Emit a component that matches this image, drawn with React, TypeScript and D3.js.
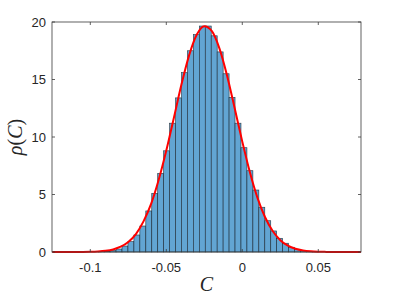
import * as d3 from "d3";
import { useEffect } from "react";

// histogram (pdf normalisation), bins of equal width starting at binStart
const binStart = -0.0948;
const binWidth = 0.003914;
const density = [
  0.01, 0.03, 0.12, 0.26, 0.52, 0.9, 1.48, 2.26, 3.57, 5.1, 6.84, 8.8, 11.2,
  13.4, 15.6, 17.5, 18.9, 19.65, 19.65, 18.8, 17.4, 15.5, 13.45, 11.2, 9.07,
  7.07, 5.39, 3.89, 2.72, 1.83, 1.19, 0.76, 0.41, 0.23, 0.11, 0.05, 0.02,
];

// fitted curve
const fitX = [
  -0.125, -0.12, -0.115, -0.11, -0.105, -0.1, -0.095, -0.09, -0.085, -0.08,
  -0.075, -0.07, -0.065, -0.06, -0.055, -0.05, -0.045, -0.04, -0.035, -0.03,
  -0.025, -0.02, -0.015, -0.01, -0.005, 0, 0.005, 0.01, 0.015, 0.02, 0.025,
  0.03, 0.035, 0.04, 0.045, 0.05, 0.055, 0.06, 0.065, 0.07, 0.075, 0.078,
];
const fitY = [
  0, 0, 0.001, 0.003, 0.007, 0.019, 0.046, 0.104, 0.225, 0.46, 0.87, 1.56,
  2.66, 4.18, 6.28, 8.82, 11.68, 14.58, 17.1, 18.89, 19.64, 19.21, 17.69,
  15.33, 12.5, 9.6, 6.94, 4.71, 3.02, 1.82, 1.03, 0.55, 0.276, 0.13, 0.058,
  0.024, 0.01, 0.004, 0.001, 0, 0, 0,
];

const xTicks = [-0.1, -0.05, 0, 0.05];
const xTickLabels = ["-0.1", "-0.05", "0", "0.05"];
const yTicks = [0, 5, 10, 15, 20];

const width = 399;
const height = 299;
const marginLeft = 52;
const marginRight = 38;
const marginTop = 22;
const marginBottom = 47;

const App = () => {
  useEffect(() => {
    document.body.style.margin = "0";
  }, []);

  const x = d3.scaleLinear([-0.1252, 0.0781], [marginLeft, width - marginRight]);
  const y = d3.scaleLinear([0, 20], [height - marginBottom, marginTop]);

  const line = d3
    .line<number>((d, i) => x(fitX[i]), (d) => y(d))
    .curve(d3.curveMonotoneX);

  const axisColor = "#3a3a3a";
  const tickLen = 3;
  const [x0, x1] = x.range();
  const [y0, y1] = y.range();

  return (
    <svg width={width} height={height} style={{ display: "block", fontFamily: "'Liberation Sans', Arial, sans-serif" }}>
      <rect x={0} y={0} width={width} height={height} fill="white" />
      <g>
        {density.map((d, i) => {
          const a = binStart + i * binWidth;
          return (
            <rect
              key={i}
              x={x(a)}
              y={y(d)}
              width={x(a + binWidth) - x(a)}
              height={y(0) - y(d)}
              fill="#62a5d3"
              stroke="#17232e"
              strokeOpacity={0.85}
              strokeWidth={0.65}
            />
          );
        })}
      </g>
      <path d={line(fitY) ?? ""} fill="none" stroke="#ff0000" strokeWidth={2} />

      {/* box */}
      <rect x={x0} y={y1} width={x1 - x0} height={y0 - y1} fill="none" stroke={axisColor} strokeWidth={0.8} />
      {xTicks.map((t, i) => (
        <g key={i}>
          <line x1={x(t)} x2={x(t)} y1={y0} y2={y0 - tickLen} stroke={axisColor} strokeWidth={0.8} />
          <line x1={x(t)} x2={x(t)} y1={y1} y2={y1 + tickLen} stroke={axisColor} strokeWidth={0.8} />
          <text x={x(t)} y={y0 + 19.5} textAnchor="middle" fontSize={13} fill="#262626">
            {xTickLabels[i]}
          </text>
        </g>
      ))}
      {yTicks.map((t, i) => (
        <g key={i}>
          <line x1={x0} x2={x0 + tickLen} y1={y(t)} y2={y(t)} stroke={axisColor} strokeWidth={0.8} />
          <line x1={x1} x2={x1 - tickLen} y1={y(t)} y2={y(t)} stroke={axisColor} strokeWidth={0.8} />
          <text x={x0 - 6} y={y(t) + 4.5} textAnchor="end" fontSize={13} fill="#262626">
            {t}
          </text>
        </g>
      ))}

      <text
        x={(x0 + x1) / 2}
        y={291}
        textAnchor="middle"
        fontSize={20}
        fontFamily="'Liberation Serif', 'DejaVu Serif', serif"
        fontStyle="italic"
        fill="#262626"
      >
        C
      </text>
      <text
        transform={`translate(22,${(y0 + y1) / 2}) rotate(-90)`}
        textAnchor="middle"
        fontSize={20}
        fontFamily="'Liberation Serif', 'DejaVu Serif', serif"
        fill="#262626"
      >
        <tspan fontStyle="italic">ρ</tspan>
        <tspan>(</tspan>
        <tspan fontStyle="italic">C</tspan>
        <tspan>)</tspan>
      </text>
    </svg>
  );
};

export default App;
